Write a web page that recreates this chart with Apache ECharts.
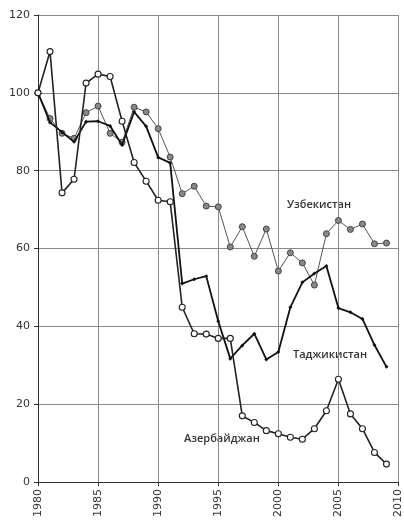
<!DOCTYPE html>
<html><head><meta charset="utf-8">
<script src="https://cdn.jsdelivr.net/npm/echarts@6/dist/echarts.min.js"></script>
<style>html,body{margin:0;padding:0;background:#fff}#c{width:404px;height:520px}</style>
</head><body><div id="c"></div>
<script>
const years = [1980,1981,1982,1983,1984,1985,1986,1987,1988,1989,1990,1991,1992,1993,1994,1995,1996,1997,1998,1999,2000,2001,2002,2003,2004,2005,2006,2007,2008,2009];
const uzbekistan = [100,93.4,89.6,88.3,94.9,96.6,89.6,87.3,96.3,95.1,90.8,83.5,74.1,76.0,70.9,70.7,60.4,65.6,58.0,65.0,54.2,58.9,56.3,50.6,63.8,67.2,64.9,66.3,61.2,61.4];
const tajikistan = [100,92.4,89.9,87.4,92.6,92.7,91.5,86.6,95.1,91.4,83.4,82.0,51.0,52.1,52.9,41.3,31.7,35.1,38.1,31.5,33.4,44.9,51.3,53.6,55.5,44.7,43.6,41.9,35.2,29.6];
const azerbaijan = [100,110.6,74.3,77.8,102.5,104.8,104.2,92.7,82.1,77.3,72.4,72.0,44.9,38.1,38.0,36.9,36.9,17.0,15.3,13.2,12.4,11.5,11.0,13.7,18.3,26.4,17.5,13.7,7.6,4.6];
const seriesNames = ['Узбекистан','Таджикистан','Азербайджан'];
const pair = a => years.map((y,i)=>[y,a[i]]);
const chart = echarts.init(document.getElementById('c'), null, {renderer:'canvas'});
const font = 'DejaVu Sans';
chart.setOption({
  animation:false,
  backgroundColor:'#fff',
  grid:{left:38,right:3,top:15,bottom:33,containLabel:false},
  xAxis:{type:'value',min:1980,max:2010,interval:5,
    axisLine:{show:true,onZero:false,lineStyle:{color:'#333',width:1}},
    axisTick:{show:true,length:4,lineStyle:{color:'#333'}},
    splitLine:{show:true,lineStyle:{color:'#888',width:1}},
    axisLabel:{rotate:90,color:'#333',fontFamily:font,fontSize:11,margin:7,formatter:v=>String(v)}},
  yAxis:{type:'value',min:0,max:120,interval:20,
    axisLine:{show:true,lineStyle:{color:'#333',width:1}},
    axisTick:{show:true,length:4,lineStyle:{color:'#333'}},
    splitLine:{show:true,lineStyle:{color:'#888',width:1}},
    axisLabel:{color:'#333',fontFamily:font,fontSize:11,margin:8}},
  series:[
    {name:seriesNames[0],type:'line',data:pair(uzbekistan),symbol:'circle',symbolSize:6,
     lineStyle:{color:'#555',width:1},itemStyle:{color:'#888',borderColor:'#444',borderWidth:1},z:2},
    {name:seriesNames[1],type:'line',data:pair(tajikistan),symbol:'diamond',symbolSize:4,
     lineStyle:{color:'#111',width:1.8},itemStyle:{color:'#111',borderColor:'#111',borderWidth:0},z:3},
    {name:seriesNames[2],type:'line',data:pair(azerbaijan),symbol:'circle',symbolSize:6,
     lineStyle:{color:'#222',width:1.6},itemStyle:{color:'#fff',borderColor:'#222',borderWidth:1.1},z:4}
  ],
  graphic:[
    {type:'text',left:287,top:199,style:{text:seriesNames[0],fill:'#333',font:'600 11px "Open Sans"'}},
    {type:'text',left:293,top:349,style:{text:seriesNames[1],fill:'#333',font:'600 11px "Open Sans"'}},
    {type:'text',left:184,top:433,style:{text:seriesNames[2],fill:'#333',font:'600 11px "Open Sans"'}}
  ]
});
</script></body></html>
